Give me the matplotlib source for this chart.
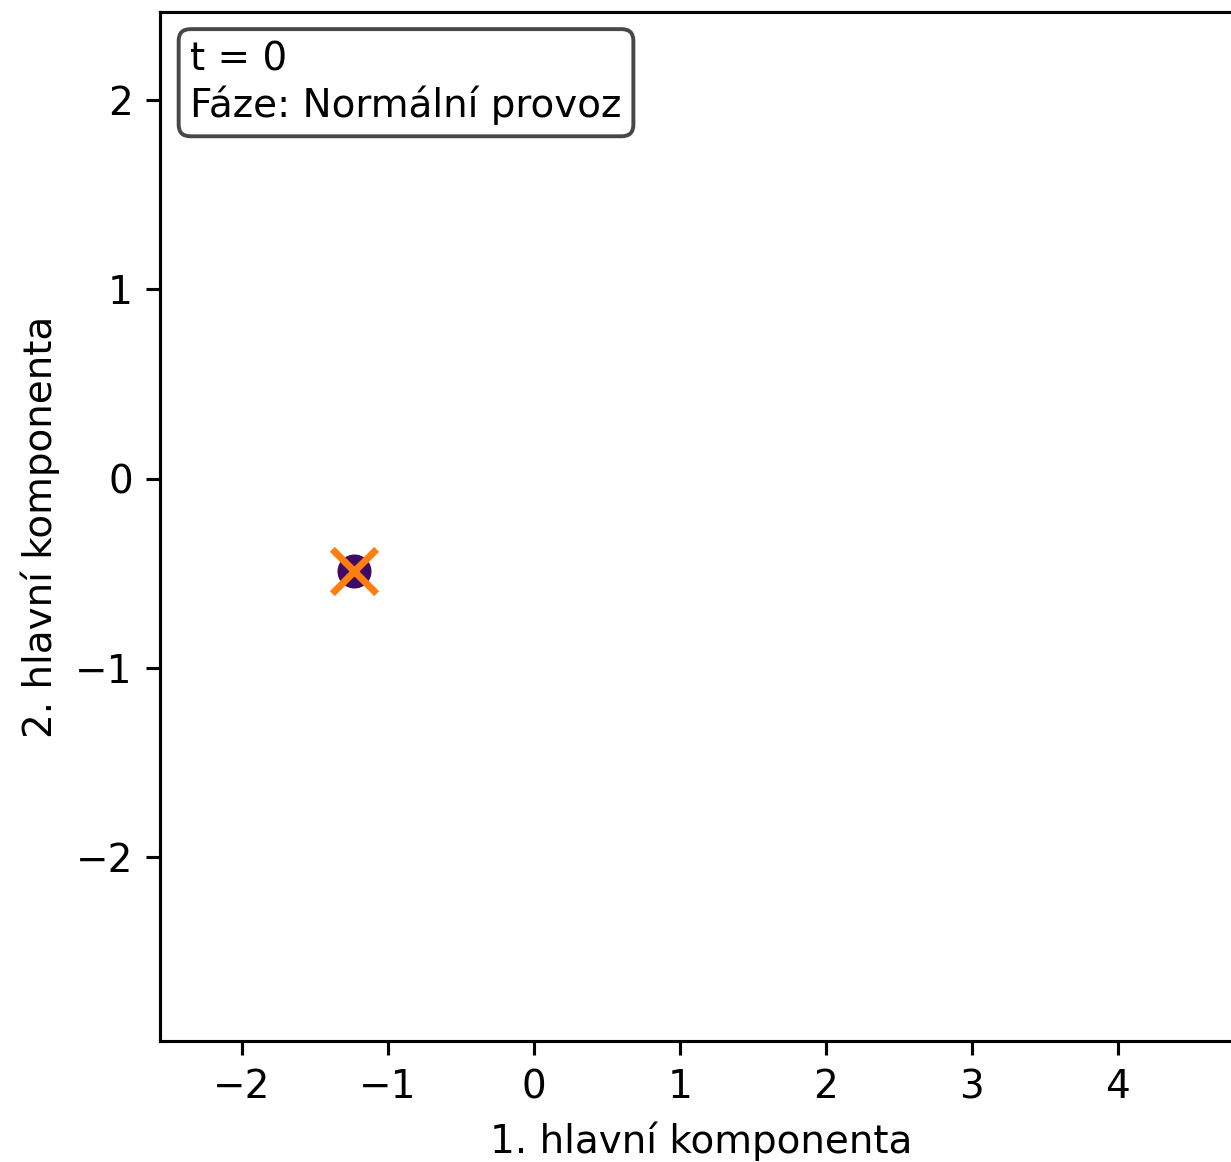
import matplotlib
matplotlib.use('Agg')
import matplotlib.pyplot as plt

# data
pc1 = [-1.23]
pc2 = [-0.49]
cur_x = [-1.23]
cur_y = [-0.49]
info_text = 't = 0\nFáze: Normální provoz'

fig = plt.figure(figsize=(1231 / 280, 1162 / 280), dpi=280)
ax = fig.add_axes([160 / 1231, 121 / 1162, 1.01 - 160 / 1231, 1029 / 1162])

ax.scatter(pc1, pc2, c='#3f0a66', s=60, zorder=2)
ax.scatter(cur_x, cur_y, marker='x', color='#ff7f0e', s=130, linewidths=1.8, zorder=3)

ax.set_xlim(-2.56, 4.86)
ax.set_ylim(-2.97, 2.465)
ax.set_xticks([-2, -1, 0, 1, 2, 3, 4])
ax.set_yticks([-2, -1, 0, 1, 2])
ax.set_xlabel('1. hlavní komponenta')
ax.set_ylabel('2. hlavní komponenta')

ax.text(0.028, 0.972, info_text, transform=ax.transAxes, va='top', ha='left',
        bbox=dict(boxstyle='round', facecolor='white', edgecolor='#333333', alpha=0.9))

fig.savefig('out.png', dpi=280)
